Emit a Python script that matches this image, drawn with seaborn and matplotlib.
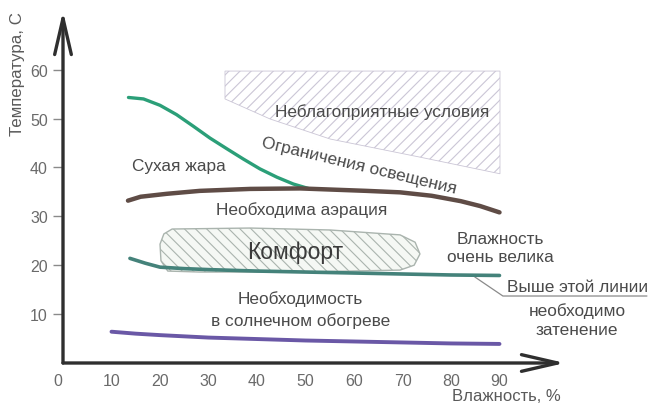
import numpy as np
import pandas as pd
import matplotlib
matplotlib.use("Agg")
import matplotlib.pyplot as plt
import matplotlib.transforms as mtransforms
import seaborn as sns
from matplotlib.patches import Polygon

# ---------------- data ----------------
dry_x = [13.5, 16.6, 20.0, 23.4, 26.9, 30.3, 33.8, 37.2, 40.6, 44.1, 47.5, 50.9]
dry_y = [54.3, 54.0, 52.7, 50.8, 48.4, 46.0, 43.8, 41.7, 39.7, 38.0, 36.6, 35.6]

aer_x = [13.4, 16, 21.4, 28.2, 38.6, 48.9, 62.6, 69.5, 76, 82, 86, 90]
aer_y = [33.2, 34.0, 34.6, 35.2, 35.6, 35.7, 35.2, 34.9, 34.2, 33.1, 32.1, 30.8]

shade_x = [13.8, 17, 20, 25, 30, 40, 50, 60, 70, 80, 90]
shade_y = [21.4, 20.4, 19.6, 19.3, 19.1, 18.8, 18.6, 18.4, 18.2, 18.0, 17.9]

heat_x = [10, 15, 20, 30, 40, 50, 60, 70, 80, 90]
heat_y = [6.4, 6.0, 5.7, 5.2, 4.9, 4.6, 4.4, 4.2, 4.0, 3.9]

bad_x = [33.4, 90.1, 90.1, 73.6, 55.1, 42.7, 33.4]
bad_y = [59.7, 59.7, 38.7, 42.1, 45.8, 49.9, 54.0]

comf_x = [22.5, 38.6, 55.1, 69.5, 72.6, 73.6, 72.4, 69.5, 48.9, 28.2, 21.6, 20.2, 20.0, 20.8]
comf_y = [27.4, 27.6, 27.2, 26.2, 24.7, 22.3, 20.0, 19.0, 18.6, 18.6, 18.8, 20.9, 24.3, 26.4]

x_ticks = [0, 10, 20, 30, 40, 50, 60, 70, 80, 90]
y_ticks = [10, 20, 30, 40, 50, 60]

# ---------------- style ----------------
sns.set_style("white")
plt.rcParams["font.family"] = ["Liberation Sans", "DejaVu Sans"]
plt.rcParams["hatch.linewidth"] = 0.8

W, H = 648, 406
fig = plt.figure(figsize=(W / 100, H / 100), dpi=100)
ax_left, ax_bottom = 63, 42
ax_w, ax_h = 502, 352
ax = fig.add_axes([ax_left / W, ax_bottom / H, ax_w / W, ax_h / H])
ax.set_xlim(0, ax_w / 4.85)
ax.set_ylim(0, ax_h / 4.89)
for s in ax.spines.values():
    s.set_visible(False)

txt = "#4a4a4a"
fs = 12.4

# regions
bad = Polygon(np.column_stack([bad_x, bad_y]), closed=True, facecolor="white",
              edgecolor="#cbc6d6", hatch="///", lw=0.6, zorder=1)
ax.add_patch(bad)
comf = Polygon(np.column_stack([comf_x, comf_y]), closed=True, facecolor="#f5f8f4",
               edgecolor="#aab4ae", hatch="\\\\\\", lw=1.0, zorder=1, joinstyle="round")
ax.add_patch(comf)

# lines
sns.lineplot(x=dry_x, y=dry_y, ax=ax, color="#2b9f78", lw=2.4, sort=False,
             estimator=None, solid_capstyle="round", zorder=3)
sns.lineplot(x=aer_x, y=aer_y, ax=ax, color="#5f4c46", lw=3.2, sort=False,
             estimator=None, solid_capstyle="round", zorder=3)
sns.lineplot(x=shade_x, y=shade_y, ax=ax, color="#44827a", lw=2.6, sort=False,
             estimator=None, solid_capstyle="round", zorder=3)
sns.lineplot(x=heat_x, y=heat_y, ax=ax, color="#6a58a6", lw=2.8, sort=False,
             estimator=None, solid_capstyle="round", zorder=3)

# axes arrows
arrow_kw = dict(arrowstyle="->,head_length=2.6,head_width=0.6", lw=2.4, color="#2f2f2f",
                shrinkA=0, shrinkB=0)
ax.annotate("", xy=(0, 1), xytext=(0, 0), xycoords="axes fraction",
            textcoords="axes fraction", arrowprops=arrow_kw, annotation_clip=False)
ax.annotate("", xy=(1, 0), xytext=(0, 0), xycoords="axes fraction",
            textcoords="axes fraction", arrowprops=arrow_kw, annotation_clip=False)

# ticks
ax.set_xticks(x_ticks)
ax.set_xticklabels([str(v) for v in x_ticks])
ax.set_yticks(y_ticks)
ax.set_yticklabels([str(v) for v in y_ticks])
ax.tick_params(axis="x", length=0, pad=7, labelsize=11.5, labelcolor="#6a6a6a")
ax.tick_params(axis="y", left=True, length=7, width=1, color="#8a8a8a", pad=4,
               labelsize=11.5, labelcolor="#6a6a6a")
ax.grid(False)
# the "0" sits slightly left of the origin in the reference
zero_lbl = ax.get_xticklabels()[0]
zero_lbl.set_transform(zero_lbl.get_transform() +
                       mtransforms.ScaledTranslation(-5 / 100, 0, fig.dpi_scale_trans))

# axis labels
ax.text((506 - 63) / ax_w, (364 - 397) / ax_h, "Влажность, %", transform=ax.transAxes,
        ha="center", va="center", fontsize=12, color="#5a5a5a", clip_on=False)
ax.text((18 - 63) / ax_w, (364 - 74) / ax_h, "Температура, С", transform=ax.transAxes,
        ha="center", va="center", rotation=90, fontsize=12.2, color="#5a5a5a", clip_on=False)

# annotations
ax.text(65.8, 51.5, "Неблагоприятные условия", ha="center", va="center", fontsize=fs, color=txt, zorder=4)
ax.text(61.0, 40.5, "Ограничения освещения", ha="center", va="center", fontsize=fs, color=txt,
        rotation=-13.5, zorder=4)
ax.text(23.9, 40.4, "Сухая жара", ha="center", va="center", fontsize=fs, color=txt, zorder=4)
ax.text(49.3, 31.4, "Необходима аэрация", ha="center", va="center", fontsize=fs, color=txt, zorder=4)
ax.text(47.8, 22.8, "Комфорт", ha="center", va="center", fontsize=16.5, color="#3a3a3a", zorder=4)
ax.text(48.9, 13.3, "Необходимость", ha="center", va="center", fontsize=fs, color=txt, zorder=4)
ax.text(48.9, 8.8, "в солнечном обогреве", ha="center", va="center", fontsize=fs, color=txt, zorder=4)
ax.text(90.1, 25.4, "Влажность", ha="center", va="center", fontsize=fs, color=txt, zorder=4)
ax.text(90.1, 21.7, "очень велика", ha="center", va="center", fontsize=fs, color=txt, zorder=4)
ax.text(106.0, 15.7, "Выше этой линии", ha="center", va="center", fontsize=fs, color=txt, clip_on=False)
ax.text(106.0, 10.8, "необходимо", ha="center", va="center", fontsize=fs, color=txt, clip_on=False)
ax.text(106.0, 6.9, "затенение", ha="center", va="center", fontsize=fs, color=txt, clip_on=False)
ax.plot([84.9, 90.7, 120.4], [17.6, 13.7, 13.7], color="#8a8a8a", lw=0.9, clip_on=False, zorder=2)

fig.savefig("out.png", dpi=100)
